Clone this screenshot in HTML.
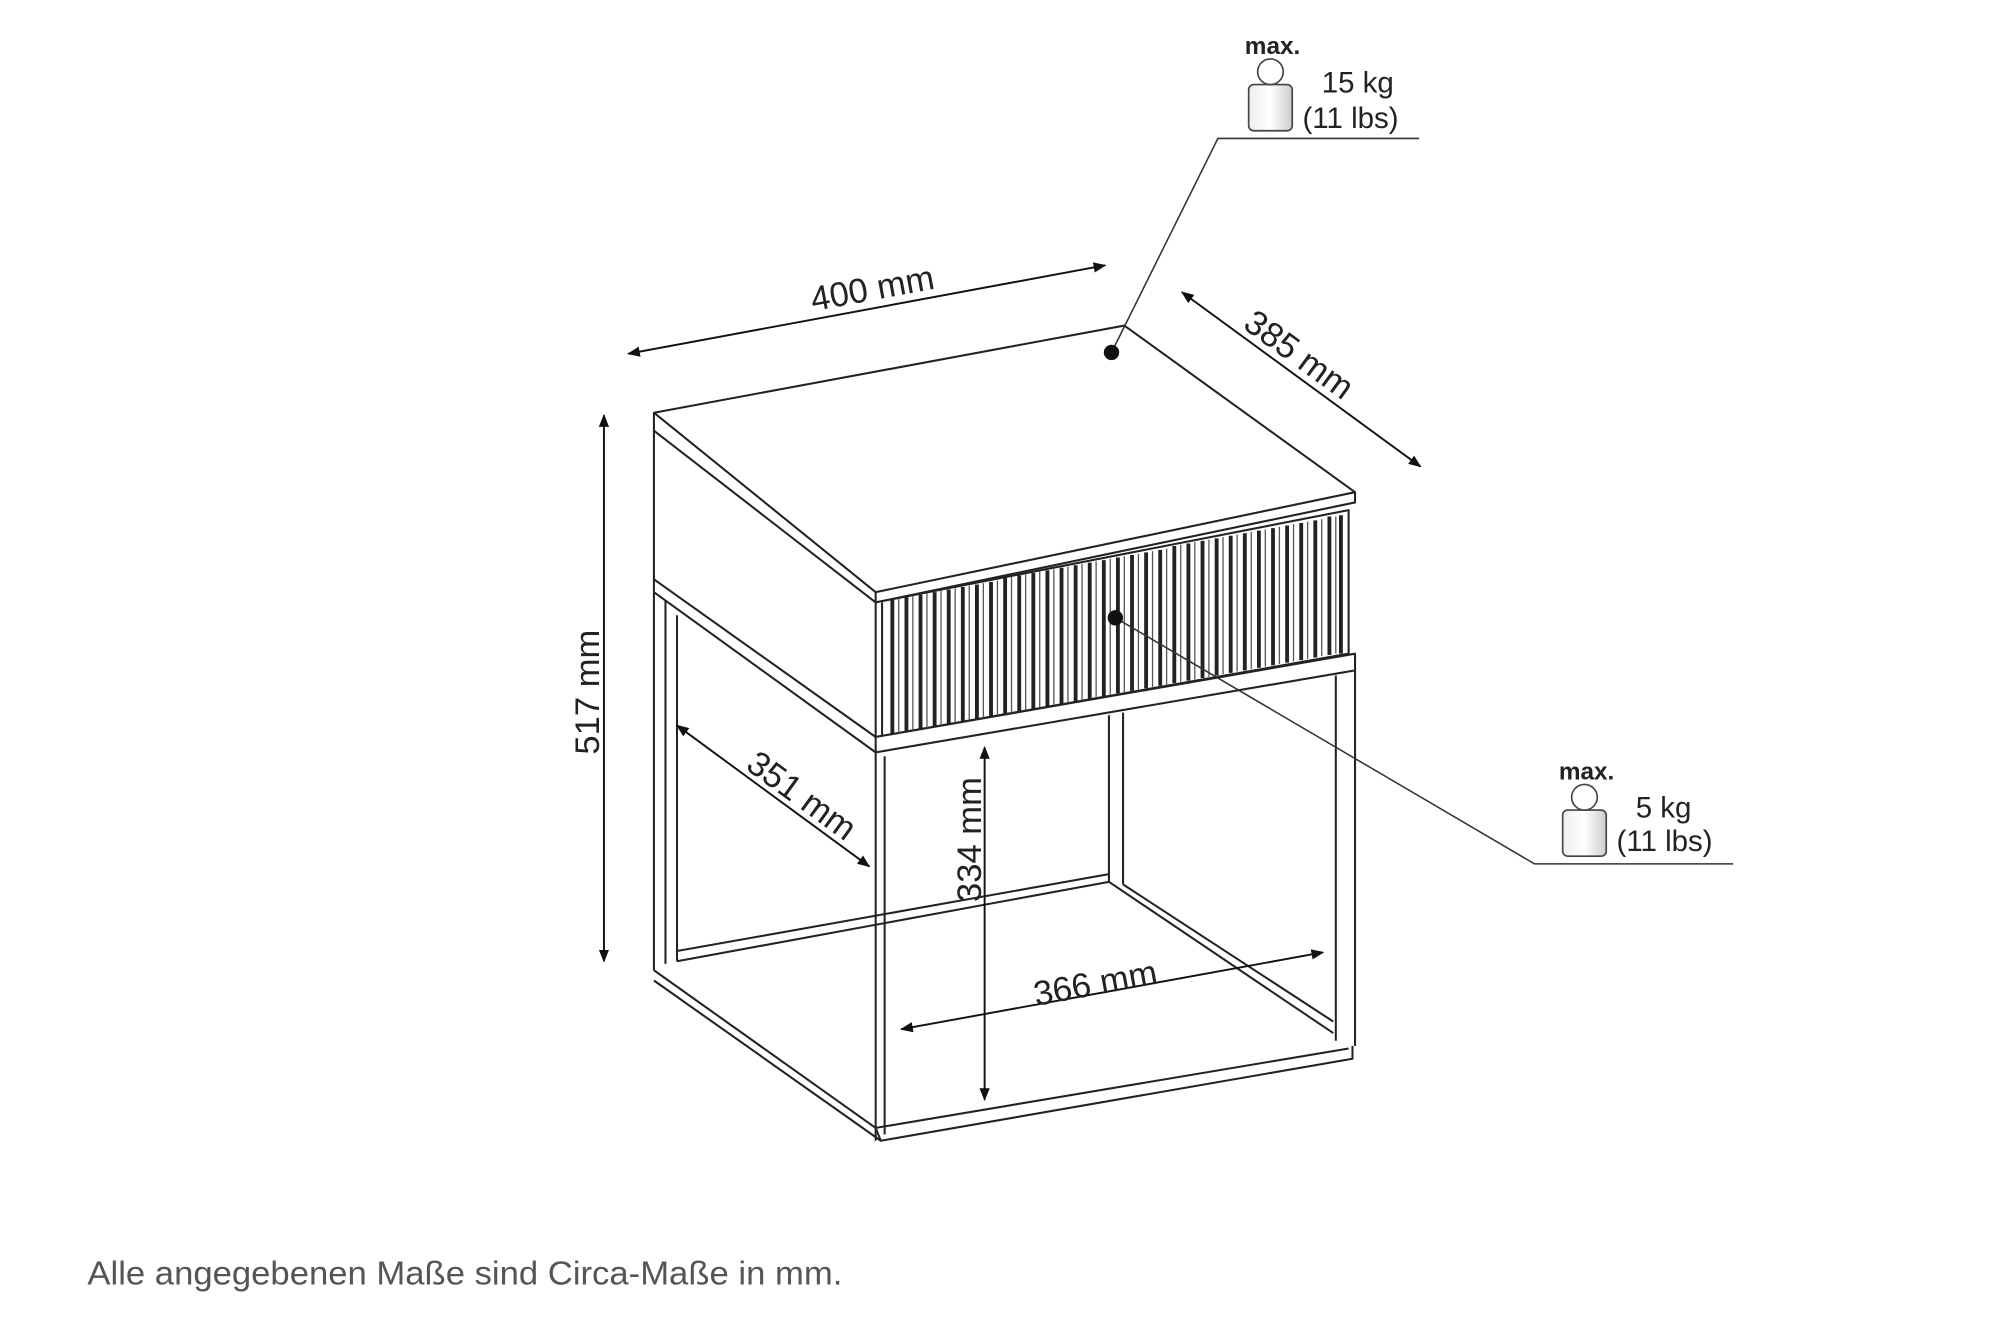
<!DOCTYPE html>
<html><head><meta charset="utf-8">
<style>
html,body{margin:0;padding:0;background:#fff;}
svg{display:block;}
text{font-family:"Liberation Sans",sans-serif;fill:#222;}
</style></head>
<body>
<svg width="2000" height="1333" viewBox="0 0 1560 1040" xmlns="http://www.w3.org/2000/svg">
<defs>
<marker id="a" viewBox="0 0 10 10" refX="9" refY="5" markerWidth="10" markerHeight="10" orient="auto-start-reverse" markerUnits="userSpaceOnUse">
<path d="M0,1 L10,5 L0,9 z" fill="#111"/>
</marker>
<linearGradient id="w" x1="0" x2="1"><stop offset="0" stop-color="#eee"/><stop offset="0.5" stop-color="#fff"/><stop offset="1" stop-color="#ccc"/></linearGradient>
</defs>
<g fill="none" stroke="#222" stroke-width="1.6" stroke-linejoin="round">
<polygon points="510,322 877,254 1057,384 683,462" fill="#fff"/>
<polyline points="510,322 510,336 683,470 1057,392 1057,384"/>
<line x1="683" y1="462" x2="683" y2="470"/>
<polyline points="510,336 510,452 683,575"/>
<polygon points="683,470 1052,398 1052,510 683,575" fill="#fff"/>
<polyline points="688,470 688,575"/>
<polygon points="683,575 1057,510 1057,523 683,587" fill="#fff"/>
<polyline points="510,452 510,462 683,587"/>
<line x1="510" y1="462" x2="510" y2="757"/>
<line x1="519" y1="468" x2="519" y2="752"/>
<line x1="683" y1="587" x2="683" y2="890"/>
<line x1="690" y1="590" x2="690" y2="885"/>
<line x1="1057" y1="523" x2="1057" y2="816"/>
<line x1="1042" y1="527" x2="1042" y2="812"/>
<line x1="865" y1="558" x2="865" y2="688"/>
<line x1="876" y1="556" x2="876" y2="690"/>
<line x1="528" y1="480" x2="528" y2="750"/>
<polyline points="510,757 683,880 1052,818"/>
<polyline points="510,765 687,890 1055,826 1055,816"/>
<line x1="683" y1="880" x2="687" y2="890"/>
<polyline points="528,750 865,688 1040,806"/>
<polyline points="528,742 865,682"/>
<polyline points="876,690 1040,797"/>
</g>
<g stroke="#222" stroke-width="3">
<line x1="696" y1="468" x2="696" y2="573"/><line x1="707" y1="466" x2="707" y2="571"/><line x1="718" y1="464" x2="718" y2="569"/><line x1="729" y1="462" x2="729" y2="567"/><line x1="740" y1="460" x2="740" y2="565"/><line x1="751" y1="458" x2="751" y2="563"/><line x1="762" y1="456" x2="762" y2="561"/><line x1="773" y1="454" x2="773" y2="559"/><line x1="784" y1="451" x2="784" y2="557"/><line x1="795" y1="449" x2="795" y2="555"/><line x1="806" y1="447" x2="806" y2="553"/><line x1="817" y1="445" x2="817" y2="551"/><line x1="828" y1="443" x2="828" y2="549"/><line x1="839" y1="441" x2="839" y2="547"/><line x1="850" y1="439" x2="850" y2="545"/><line x1="861" y1="437" x2="861" y2="543"/><line x1="872" y1="435" x2="872" y2="541"/><line x1="883" y1="433" x2="883" y2="539"/><line x1="894" y1="431" x2="894" y2="537"/><line x1="905" y1="429" x2="905" y2="535"/><line x1="916" y1="426" x2="916" y2="533"/><line x1="927" y1="424" x2="927" y2="531"/><line x1="938" y1="422" x2="938" y2="529"/><line x1="949" y1="420" x2="949" y2="527"/><line x1="960" y1="418" x2="960" y2="525"/><line x1="971" y1="416" x2="971" y2="523"/><line x1="982" y1="414" x2="982" y2="521"/><line x1="993" y1="412" x2="993" y2="519"/><line x1="1004" y1="410" x2="1004" y2="517"/><line x1="1015" y1="408" x2="1015" y2="515"/><line x1="1026" y1="406" x2="1026" y2="513"/><line x1="1037" y1="403" x2="1037" y2="511"/><line x1="1046" y1="402" x2="1046" y2="510"/>
</g>
<g stroke="#555" stroke-width="1">
<line x1="701" y1="467" x2="701" y2="572"/><line x1="712" y1="465" x2="712" y2="570"/><line x1="723" y1="463" x2="723" y2="568"/><line x1="734" y1="461" x2="734" y2="566"/><line x1="745" y1="459" x2="745" y2="564"/><line x1="756" y1="457" x2="756" y2="562"/><line x1="767" y1="455" x2="767" y2="560"/><line x1="778" y1="453" x2="778" y2="558"/><line x1="789" y1="450" x2="789" y2="556"/><line x1="800" y1="448" x2="800" y2="554"/><line x1="811" y1="446" x2="811" y2="552"/><line x1="822" y1="444" x2="822" y2="550"/><line x1="833" y1="442" x2="833" y2="548"/><line x1="844" y1="440" x2="844" y2="546"/><line x1="855" y1="438" x2="855" y2="544"/><line x1="866" y1="436" x2="866" y2="542"/><line x1="877" y1="434" x2="877" y2="540"/><line x1="888" y1="432" x2="888" y2="538"/><line x1="899" y1="430" x2="899" y2="536"/><line x1="910" y1="428" x2="910" y2="534"/><line x1="921" y1="425" x2="921" y2="532"/><line x1="932" y1="423" x2="932" y2="530"/><line x1="943" y1="421" x2="943" y2="528"/><line x1="954" y1="419" x2="954" y2="526"/><line x1="965" y1="417" x2="965" y2="524"/><line x1="976" y1="415" x2="976" y2="522"/><line x1="987" y1="413" x2="987" y2="520"/><line x1="998" y1="411" x2="998" y2="518"/><line x1="1009" y1="409" x2="1009" y2="516"/><line x1="1020" y1="407" x2="1020" y2="514"/><line x1="1031" y1="405" x2="1031" y2="512"/><line x1="1042" y1="403" x2="1042" y2="510"/>
</g>
<g stroke="#111" stroke-width="1.5" fill="none">
<line x1="490" y1="276" x2="862" y2="207" marker-start="url(#a)" marker-end="url(#a)"/>
<line x1="922" y1="228" x2="1108" y2="364" marker-start="url(#a)" marker-end="url(#a)"/>
<line x1="471" y1="324" x2="471" y2="750" marker-start="url(#a)" marker-end="url(#a)"/>
<line x1="528" y1="566" x2="678" y2="676" marker-start="url(#a)" marker-end="url(#a)"/>
<line x1="768" y1="583" x2="768" y2="858" marker-start="url(#a)" marker-end="url(#a)"/>
<line x1="703" y1="803" x2="1032" y2="743" marker-start="url(#a)" marker-end="url(#a)"/>
<polyline points="867,275 950,108 1107,108" stroke="#333" stroke-width="1.2"/>
<polyline points="870,482 1197,674 1352,674" stroke="#333" stroke-width="1.2"/>
</g>
<circle cx="867" cy="275" r="6" fill="#111"/>
<circle cx="870" cy="482" r="6" fill="#111"/>
<g font-size="27">
<text transform="translate(682,234) rotate(-10.5)" text-anchor="middle">400 mm</text>
<text transform="translate(1008,284) rotate(36)" text-anchor="middle">385 mm</text>
<text transform="translate(467,540) rotate(-90)" text-anchor="middle">517 mm</text>
<text transform="translate(620,628) rotate(36)" text-anchor="middle">351 mm</text>
<text transform="translate(765,655) rotate(-90)" text-anchor="middle">334 mm</text>
<text transform="translate(856,776) rotate(-10.5)" text-anchor="middle">366 mm</text>
</g>
<g>
<text x="971" y="42" font-size="19" font-weight="bold">max.</text>
<rect x="974" y="66" width="34" height="36" rx="4" fill="url(#w)" stroke="#444" stroke-width="1.3"/>
<circle cx="991" cy="56" r="10" fill="#fff" stroke="#444" stroke-width="1.3"/>
<text x="1031" y="72" font-size="23">15 kg</text>
<text x="1016" y="100" font-size="23">(11 lbs)</text>
<text x="1216" y="608" font-size="19" font-weight="bold">max.</text>
<rect x="1219" y="632" width="34" height="36" rx="4" fill="url(#w)" stroke="#444" stroke-width="1.3"/>
<circle cx="1236" cy="622" r="10" fill="#fff" stroke="#444" stroke-width="1.3"/>
<text x="1276" y="638" font-size="23">5 kg</text>
<text x="1261" y="664" font-size="23">(11 lbs)</text>
</g>
<text x="68" y="1002" font-size="26" textLength="589" lengthAdjust="spacingAndGlyphs" style="fill:#555">Alle angegebenen Maße sind Circa-Maße in mm.</text>
</svg>
</body></html>
